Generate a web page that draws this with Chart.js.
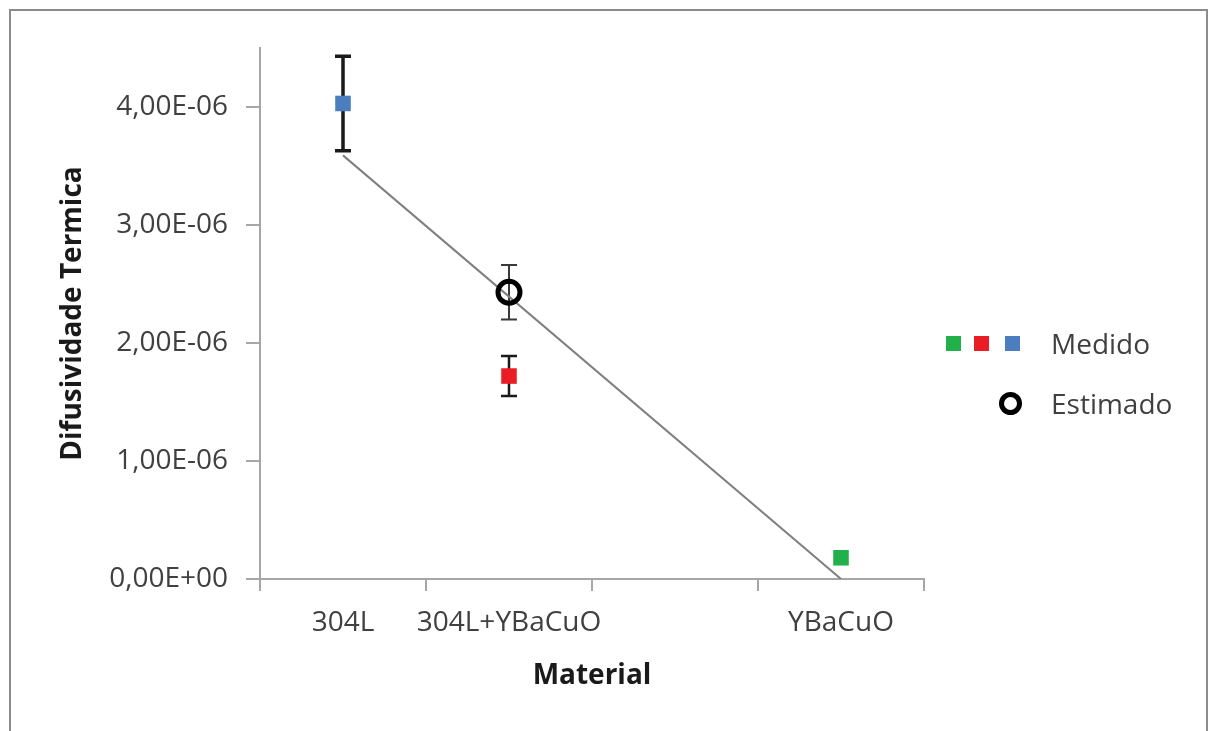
<!DOCTYPE html>
<html lang="pt-br">
<head>
    <meta charset="UTF-8">
    <title>Difusividade Termica</title>
    <script src="https://cdn.jsdelivr.net/npm/chart.js"></script>
    <style>
        body { margin: 0; background: #fff; font-family: 'Open Sans', sans-serif; }
        .janela { position: relative; width: 1208px; height: 731px; overflow: hidden; }
        .moldura { position: absolute; left: 9px; top: 9px; width: 1195px; height: 760px; border: 2px solid #8c8c8c; }
        canvas { position: absolute; left: 0; top: 0; }
        .legenda { position: absolute; left: 0; top: 0; color: #404040; font-size: 28px; }
        .item { position: absolute; left: 940px; height: 40px; line-height: 40px; white-space: nowrap; }
        .item span.txt { position: absolute; left: 111px; }
        .quad { position: absolute; width: 15px; height: 15px; top: 13px; }
        .circ { position: absolute; width: 13px; height: 13px; top: 9px; border: 5px solid #000; border-radius: 50%; }
    </style>
</head>
<body>
    <div class="janela">
        <div class="moldura"></div>
        <canvas id="grafico" width="1208" height="731"></canvas>
        <!-- legenda -->
        <div class="legenda">
            <div class="item" style="top:323px">
                <span class="quad" style="left:6px;background:#22b04b"></span>
                <span class="quad" style="left:34px;background:#ea1c24"></span>
                <span class="quad" style="left:65px;background:#4a7ebf"></span>
                <span class="txt">Medido</span>
            </div>
            <div class="item" style="top:383px">
                <span class="circ" style="left:59px"></span>
                <span class="txt">Estimado</span>
            </div>
        </div>
    </div>

<script>
    // dados
    var categorias = ['304L', '304L+YBaCuO', '', 'YBaCuO'];
    var medido = [4.03e-6, 1.72e-6, null, 0.18e-6];
    var medidoErro = [0.40e-6, 0.17e-6, null, 0];
    var medidoCores = ['#4a7ebf', '#ea1c24', '#ffffff', '#22b04b'];
    var estimado = [null, 2.43e-6, null, null];
    var estimadoErro = [null, 0.23e-6, null, null];
    var tendencia = [3.59e-6, null, null, 0];

    function formataE(v) {
        var partes = v.toExponential(2).split('e');
        var exp = parseInt(partes[1]);
        return partes[0].replace('.', ',') + 'E' + (exp < 0 ? '-' : '+') + String(Math.abs(exp)).padStart(2, '0');
    }

    // barras de erro desenhadas com as escalas do proprio grafico
    var barrasErro = {
        id: 'barrasErro',
        beforeDatasetsDraw: function (chart) {
            var ctx = chart.ctx;
            var x = chart.scales.x, y = chart.scales.y;
            var series = [
                { valores: estimado, erros: estimadoErro, cor: '#3a3a3a', larg: [2, 2, 2, 2] },
                { valores: medido, erros: medidoErro, cor: '#1a1a1a', larg: [3.5, 2.5, 2, 2] }
            ];
            ctx.save();
            series.forEach(function (s) {
                s.valores.forEach(function (v, i) {
                    if (v === null || !s.erros[i]) return;
                    var px = x.getPixelForValue(i);
                    var alto = y.getPixelForValue(v + s.erros[i]);
                    var baixo = y.getPixelForValue(v - s.erros[i]);
                    ctx.strokeStyle = s.cor;
                    ctx.lineWidth = s.larg[i];
                    ctx.beginPath();
                    ctx.moveTo(px, alto); ctx.lineTo(px, baixo);
                    ctx.moveTo(px - 8, alto); ctx.lineTo(px + 8, alto);
                    ctx.moveTo(px - 8, baixo); ctx.lineTo(px + 8, baixo);
                    ctx.stroke();
                });
            });
            ctx.restore();
        }
    };

    var ctx = document.getElementById('grafico').getContext('2d');
    new Chart(ctx, {
        type: 'line',
        data: {
            labels: categorias,
            datasets: [
                {
                    label: 'Estimado',
                    data: estimado,
                    showLine: false,
                    pointStyle: 'circle',
                    pointRadius: 11,
                    pointBorderWidth: 5,
                    pointBorderColor: '#000',
                    pointBackgroundColor: 'rgba(0,0,0,0)'
                },
                {
                    label: 'Medido',
                    data: medido,
                    showLine: false,
                    pointStyle: 'rect',
                    pointRadius: 11,
                    pointBorderWidth: 0,
                    pointBorderColor: medidoCores,
                    pointBackgroundColor: medidoCores
                },
                {
                    label: 'Linha',
                    data: tendencia,
                    spanGaps: true,
                    borderColor: '#7f7f7f',
                    borderWidth: 2,
                    pointRadius: 0,
                    tension: 0
                }
            ]
        },
        options: {
            responsive: false,
            animation: false,
            layout: { padding: { left: 0, top: 48, right: 284, bottom: 0 } },
            plugins: {
                legend: { display: false },
                tooltip: { enabled: false }
            },
            scales: {
                x: {
                    offset: true,
                    afterFit: function (s) { s.height = 152; },
                    grid: { offset: true, drawOnChartArea: false, drawTicks: true, tickLength: 12, color: '#a6a6a6', lineWidth: 2 },
                    border: { color: '#a6a6a6', width: 2 },
                    ticks: { color: '#404040', font: { family: 'Open Sans', size: 28 }, padding: 15, maxRotation: 0, autoSkip: false },
                    title: { display: true, text: 'Material', color: '#1a1a1a', font: { family: 'Open Sans', size: 28, weight: 'bold' }, padding: { bottom: 38 } }
                },
                y: {
                    min: 0,
                    max: 4.5e-6,
                    afterFit: function (s) { s.width = 260; },
                    grid: { drawOnChartArea: false, drawTicks: true, tickLength: 14, color: '#a6a6a6', lineWidth: 2 },
                    border: { color: '#a6a6a6', width: 2 },
                    ticks: { stepSize: 1e-6, includeBounds: false, color: '#404040', font: { family: 'Open Sans', size: 28 }, padding: 18, callback: function (v) { return formataE(v); } },
                    title: { display: true, text: 'Difusividade Termica', color: '#1a1a1a', font: { family: 'Open Sans', size: 28, weight: 'bold' }, padding: { top: 56 } }
                }
            }
        },
        plugins: [barrasErro]
    });
</script>
</body>
</html>
